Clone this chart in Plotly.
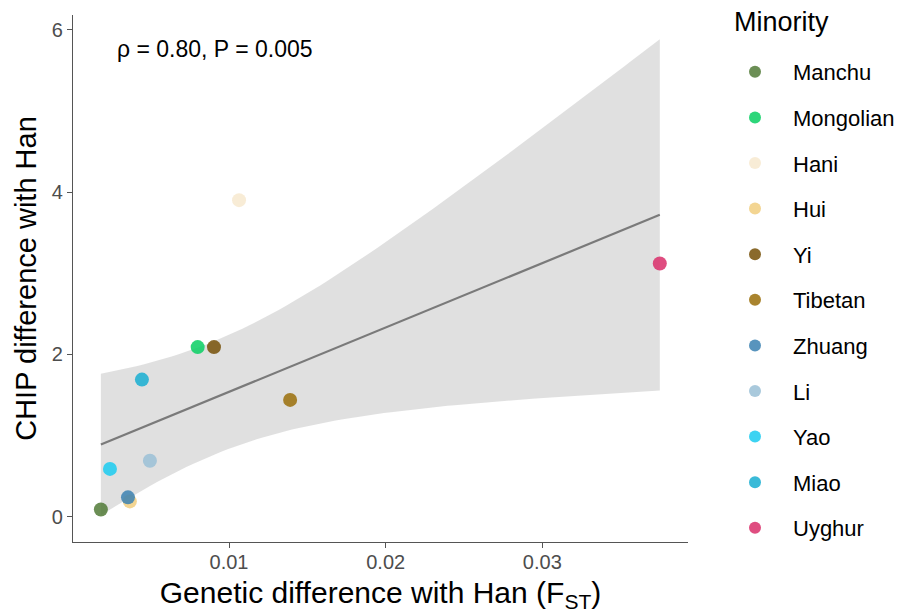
import numpy as np
import plotly.graph_objects as go

minority = ["Manchu", "Mongolian", "Hani", "Hui", "Yi", "Tibetan", "Zhuang", "Li", "Yao", "Miao", "Uyghur"]
fst = [0.00182, 0.0080, 0.01064, 0.00367, 0.00904, 0.0139, 0.00355, 0.00495, 0.0024, 0.00444, 0.0375]
chip = [0.09, 2.09, 3.90, 0.19, 2.09, 1.44, 0.24, 0.69, 0.59, 1.69, 3.12]
colors = ["#517a37", "#08cf63", "#f7e9cf", "#f1ce7f", "#755007", "#9a6f09",
          "#3b81b1", "#9abfd6", "#1bcbf0", "#18aed1", "#d92e6a"]
x_ticks = [0.01, 0.02, 0.03]
y_ticks = [0, 2, 4, 6]

# linear fit with 95% confidence band (as geom_smooth(method="lm"))
x = np.array(fst)
y = np.array(chip)
n = len(x)
b1, b0 = np.polyfit(x, y, 1)
resid = y - (b0 + b1 * x)
s = np.sqrt(np.sum(resid ** 2) / (n - 2))
sxx = np.sum((x - x.mean()) ** 2)
t_crit = 2.262157
xs = np.linspace(x.min(), x.max(), 80)
ys = b0 + b1 * xs
se = s * np.sqrt(1 / n + (xs - x.mean()) ** 2 / sxx)
upper = ys + t_crit * se
lower = ys - t_crit * se

fig = go.Figure()
fig.add_trace(go.Scatter(
    x=np.concatenate([xs, xs[::-1]]), y=np.concatenate([upper, lower[::-1]]),
    fill="toself", fillcolor="rgba(153,153,153,0.3)", line=dict(width=0),
    mode="lines", showlegend=False, hoverinfo="skip"))
fig.add_trace(go.Scatter(x=xs, y=ys, mode="lines", line=dict(color="#7a7a7a", width=2.2),
                         showlegend=False, hoverinfo="skip"))

for name, xi, yi, c in zip(minority, fst, chip, colors):
    fig.add_trace(go.Scatter(
        x=[xi], y=[yi], mode="markers", name=name, legendgroup=name,
        marker=dict(color=c, size=14, opacity=0.85, line=dict(width=0))))

fig.add_annotation(x=0.00275, y=5.76, xref="x", yref="y", text="ρ = 0.80, P = 0.005",
                   showarrow=False, xanchor="left", yanchor="middle",
                   font=dict(size=23, color="black"))

# page body has an 8px margin, so figure coordinates are page coordinates minus 8
PLOT_L, PLOT_W, PLOT_T, PLOT_H = 65, 615, 7, 527
W, H = 904, 613

# legend title
fig.add_annotation(x=(724 - PLOT_L) / PLOT_W, y=(PLOT_T + PLOT_H - 14) / PLOT_H,
                   xref="paper", yref="paper", text="Minority", showarrow=False,
                   xanchor="left", yanchor="middle", font=dict(size=27, color="black"))

axis_common = dict(showline=True, linecolor="#555555", linewidth=1.2, ticks="outside",
                   ticklen=5, tickcolor="#555555", tickfont=dict(size=20, color="#4d4d4d"),
                   showgrid=False, zeroline=False, mirror=False, automargin=False)

fig.update_layout(
    width=W, height=H,
    margin=dict(l=PLOT_L, r=W - PLOT_L - PLOT_W, t=PLOT_T, b=H - PLOT_T - PLOT_H,
                autoexpand=False),
    plot_bgcolor="white", paper_bgcolor="white",
    font=dict(family="Liberation Sans, Arial, sans-serif", color="black"),
    xaxis=dict(range=[0.00004, 0.0393], tickvals=x_ticks, ticktext=["0.01", "0.02", "0.03"],
               ticklabelstandoff=-3,
               title=dict(text="Genetic difference with Han (F<sub>ST</sub>)",
                          font=dict(size=30, color="black"), standoff=9),
               **axis_common),
    yaxis=dict(range=[-0.31, 6.18], tickvals=y_ticks,
               title=dict(text="CHIP difference with Han", font=dict(size=29, color="black"),
                          standoff=6),
               **axis_common),
    legend=dict(font=dict(size=22),
                x=(709 - PLOT_L) / PLOT_W, y=(PLOT_T + PLOT_H - 43) / PLOT_H,
                xanchor="left", yanchor="top", itemwidth=66,
                tracegroupgap=14, itemsizing="constant", maxheight=620),
)

fig.write_html("out.html")
